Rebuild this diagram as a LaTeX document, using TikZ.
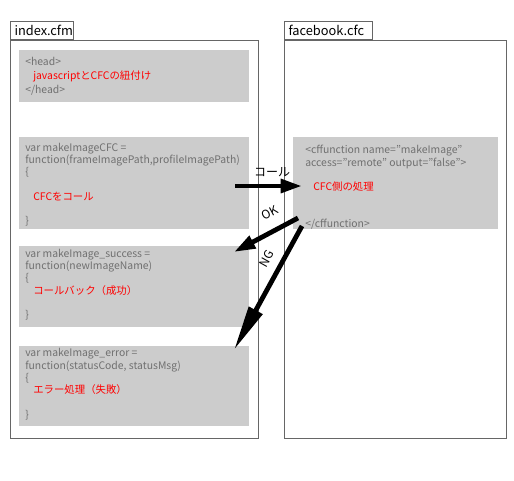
\documentclass[tikz,border=0pt]{standalone}
\usepackage{fontspec}
\setmainfont{Noto Sans CJK JP}
\usetikzlibrary{arrows.meta}
\definecolor{framegray}{HTML}{666666}
\definecolor{boxgray}{HTML}{CCCCCC}
\definecolor{codegray}{HTML}{707070}
\definecolor{codered}{HTML}{FF0000}
\newcommand{\rd}[1]{\hspace*{6pt}\textcolor{codered}{#1}}
\begin{document}
\begin{tikzpicture}[x=0.75pt,y=-0.75pt,
  frame/.style={draw=framegray,line width=0.8pt,fill=white,anchor=north west,inner sep=0pt},
  tab/.style={draw=framegray,line width=0.8pt,fill=white,anchor=south west,inner ysep=0pt,
    inner xsep=3pt,align=left,minimum height=13.5pt,text=black,font=\fontsize{9.6}{10}\selectfont},
  graybox/.style={fill=boxgray,anchor=north west,inner sep=0pt},
  code/.style={anchor=west,align=left,inner sep=0pt,text=codegray,
    font=\fontsize{7.8}{9.2}\selectfont},
  bigarrow/.style={line width=3.6pt,-{Triangle[length=16pt,width=10pt]}},
  lbl/.style={inner sep=0pt,font=\fontsize{9}{10}\selectfont}
]
\useasboundingbox (0,0) rectangle (514,480);
% frames
\node[frame,minimum width=186pt,minimum height=298.5pt] (left) at (10,40) {};
\node[tab,text width=41.25pt] (lefttab) at (10,40) {index.cfm};
\node[frame,minimum width=166.5pt,minimum height=298.5pt] (right) at (284,40) {};
\node[tab,text width=60pt] (righttab) at (284,40) {facebook.cfc};
% gray boxes
\node[graybox,minimum width=172.5pt,minimum height=39pt] (b1) at (19,50) {};
\node[graybox,minimum width=172.5pt,minimum height=69pt] (b2) at (19,137) {};
\node[graybox,minimum width=172.5pt,minimum height=60.75pt] (b3) at (19,246) {};
\node[graybox,minimum width=172.5pt,minimum height=60pt] (b4) at (19,346) {};
\node[graybox,minimum width=153.75pt,minimum height=69pt] (b5) at (293,137) {};
% texts
\node[code,font=\fontsize{7.8}{10.5}\selectfont] (t1) at ([xshift=4.5pt]b1.west)
  {<head>\\ \rd{javascriptとCFCの紐付け}\\ </head>};
\node[code] (t2) at ([xshift=4.5pt,yshift=-1pt]b2.west)
  {var makeImageCFC =\\ function(frameImagePath,profileImagePath)\\ \{\\ \\ \rd{CFCをコール}\\ \\ \}};
\node[code] (t3) at ([xshift=4.5pt,yshift=1.5pt]b3.west)
  {var makeImage\_success =\\ function(newImageName)\\ \{\\ \rd{コールバック（成功）}\\ \\ \}};
\node[code] (t4) at ([xshift=4.5pt,yshift=1.5pt]b4.west)
  {var makeImage\_error =\\ function(statusCode, statusMsg)\\ \{\\ \rd{エラー処理（失敗）}\\ \\ \}};
\node[code] (t5) at ([xshift=9pt,yshift=-3pt]b5.west)
  {<cffunction name=”makeImage”\\ access=”remote” output=”false”>\\ \\ \rd{CFC側の処理}\\ \\ \\ </cffunction>};
% arrow end points
\coordinate (callS) at (235,186);
\coordinate (callE) at (302,186);
\coordinate (okS) at (298,218);
\coordinate (okE) at (234,252);
\coordinate (ngS) at (302,226);
\coordinate (ngE) at (234,350);
\draw[bigarrow] (callS) -- (callE);
\draw[bigarrow] (okS) -- (okE);
\draw[line width=3.6pt,-{Triangle[length=34pt,width=11pt]}] (ngS) -- (ngE);
\node[lbl] (lcall) at (272,172) {コール};
\node[lbl,rotate=28] (lok) at (270,213) {OK};
\node[lbl,rotate=61] (lng) at (267,259) {NG};
\end{tikzpicture}
\end{document}
